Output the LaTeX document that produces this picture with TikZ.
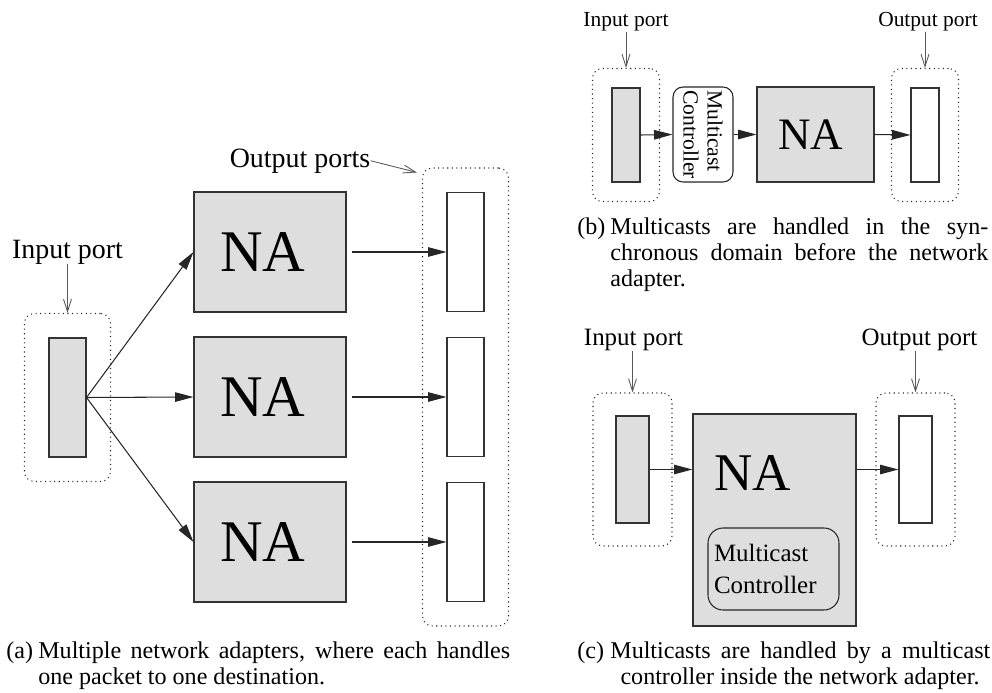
\documentclass[tikz,border=0pt]{standalone}
\usepackage{fontspec}
\setmainfont{Liberation Serif}
\usetikzlibrary{arrows.meta}
\usetikzlibrary{fit}
\tikzset{port/.style={draw=black!80, line width=0.6pt, inner sep=0pt}}
\tikzset{inport/.style={port, fill=black!13}}
\tikzset{outport/.style={port, fill=white}}
\tikzset{nabox/.style={draw=black!80, line width=0.6pt, fill=black!13, inner sep=0pt}}
\tikzset{group/.style={draw=black!85, dotted, line width=0.6pt, rounded corners=0.2cm}}
\tikzset{mcbox/.style={draw=black!85, line width=0.6pt, rounded corners=0.2cm, inner sep=0pt}}
\tikzset{flow/.style={-{Triangle[length=10.5pt,width=5.4pt]}, line width=0.6pt, black!85}}
\tikzset{hint/.style={-{Straight Barb[length=7pt,width=4.5pt]}, line width=0.5pt, black!65}}
\tikzset{lblA/.style={font=\fontsize{15.9}{18}\selectfont, inner sep=0pt, anchor=base}}
\tikzset{lblB/.style={font=\fontsize{12.2}{14}\selectfont, inner sep=0pt, anchor=base}}
\tikzset{lblC/.style={font=\fontsize{14.2}{16}\selectfont, inner sep=0pt, anchor=base}}
\tikzset{capline/.style={font=\fontsize{13.7}{14.8}\selectfont, inner sep=0pt, anchor=base west}}

\begin{document}
\begin{tikzpicture}[x=0.02cm,y=-0.02cm]
  \useasboundingbox (0,0) rectangle (992,693);

  % (a) one input port feeding three network adapters
  \node[inport, minimum width=0.74cm, minimum height=2.38cm] (inA) at (67.5,397.5) {};
  \node[group, inner sep=0.48cm, fit=(inA)] (grpInA) {};
  \foreach \y/\lab in {
    252/1,
    397/2,
    542/3%
  } {
    \node[nabox, minimum width=3.04cm, minimum height=2.4cm, font=\fontsize{33.6}{36}\selectfont] (naA\lab) at (270,\y) {NA\hspace*{0.28cm}};
    \node[outport, minimum width=0.74cm, minimum height=2.38cm] (outA\lab) at (465.5,\y) {};
  }
  \node[group, inner sep=0.48cm, fit=(outA1)(outA3)] (grpOutA) {};
  \foreach \lab in {1,2,3} {
    \draw[flow] (inA.east) -- (naA\lab.west);
    \draw[flow, shorten <=0.1cm] (naA\lab.east) -- (outA\lab.west);
  }
  \node[lblA] (lblInA) at (67.5,258) {Input port};
  \node[lblA] (lblOutA) at (300,167) {Output ports};
  \draw[hint] (grpInA.north |- lblInA.south) -- (grpInA.north);
  \draw[hint] (lblOutA.east) -- ([shift={(-5,5)}]grpOutA.north west);

  % (b) controller before the adapter
  \node[inport, minimum width=0.56cm, minimum height=1.88cm] (inB) at (626,135) {};
  \node[group, inner sep=0.38cm, fit=(inB)] (grpInB) {};
  \node[mcbox, fill=white, minimum width=1.2cm, minimum height=1.9cm] (mcB) at (703,134.5) {};
  \node[rotate=-90, align=left, inner sep=0pt, font=\fontsize{12.3}{13.7}\selectfont] (mcTxtB) at (mcB) {Multicast\\Controller};
  \node[nabox, minimum width=2.34cm, minimum height=1.9cm, font=\fontsize{25.6}{28}\selectfont] (naB) at (815.5,134.5) {NA\hspace*{0.2cm}};
  \node[outport, minimum width=0.56cm, minimum height=1.88cm] (outB) at (925,135) {};
  \node[group, inner sep=0.38cm, fit=(outB)] (grpOutB) {};
  \draw[flow] (inB.east) -- (mcB.west);
  \draw[flow] (mcB.east) -- (naB.west);
  \draw[flow] (naB.east) -- (outB.west);
  \node[lblB] (lblInB) at (626,27) {Input port};
  \node[lblB] (lblOutB) at (928,27) {Output port};
  \draw[hint] (grpInB.north |- lblInB.south) -- (grpInB.north);
  \draw[hint] (grpOutB.north |- lblOutB.south) -- (grpOutB.north);

  % (c) controller inside the adapter
  \node[inport, minimum width=0.66cm, minimum height=2.14cm] (inC) at (632.5,469.5) {};
  \node[group, inner sep=0.45cm, fit=(inC)] (grpInC) {};
  \node[nabox, minimum width=3.26cm, minimum height=4.24cm] (naC) at (774.5,520) {};
  \node[inner sep=0pt, font=\fontsize{30.2}{32}\selectfont] (naTxtC) at (753,472.5) {NA};
  \node[mcbox, rounded corners=0.3cm, minimum width=2.62cm, minimum height=1.64cm, text width=2.38cm, inner sep=0.12cm, align=left, font=\fontsize{14.2}{18.2}\selectfont] (mcC) at (773.5,569) {Multicast\\Controller};
  \node[outport, minimum width=0.66cm, minimum height=2.14cm] (outC) at (915.5,469.5) {};
  \node[group, inner sep=0.45cm, fit=(outC)] (grpOutC) {};
  \draw[flow] (inC.east) -- (inC.east -| naC.west);
  \draw[flow] (outC.west -| naC.east) -- (outC.west);
  \node[lblC] (lblInC) at (633.5,345) {Input port};
  \node[lblC] (lblOutC) at (919.5,345) {Output port};
  \draw[hint] (grpInC.north |- lblInC.south) -- (grpInC.north);
  \draw[hint] (grpOutC.north |- lblOutC.south) -- (grpOutC.north);

  % captions
  \node[capline] (capA) at (6,658) {(a)};
  \node[capline] (capA1) at (38,658) {\makebox[9.44cm][s]{Multiple network adapters, where each handles}};
  \node[capline] (capA2) at (38,684) {one packet to one destination.};
  \node[capline] (capB) at (577,234) {(b)};
  \node[capline] (capB1) at (610,234) {\makebox[7.56cm][s]{Multicasts are handled in the syn-}};
  \node[capline] (capB2) at (610,260) {\makebox[7.56cm][s]{chronous domain before the network}};
  \node[capline] (capB3) at (610,286) {adapter.};
  \node[capline] (capC) at (577,658) {(c)};
  \node[capline] (capC1) at (610,658) {\makebox[7.6cm][s]{Multicasts are handled by a multicast}};
  \node[capline, anchor=base] (capC2) at (800,684) {controller inside the network adapter.};
\end{tikzpicture}
\end{document}
